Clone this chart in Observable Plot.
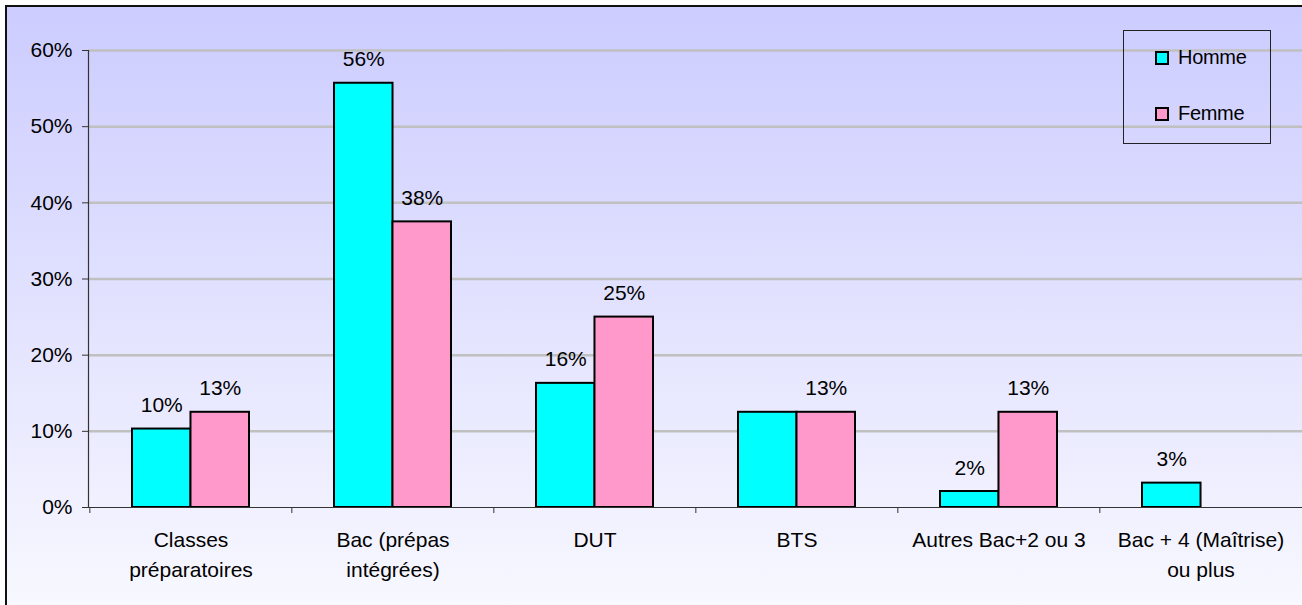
<!DOCTYPE html>
<html>
<head>
<meta charset="utf-8">
<script src="https://cdn.jsdelivr.net/npm/d3@7"></script>
<script src="https://cdn.jsdelivr.net/npm/@observablehq/plot@0.6"></script>
<style>
  html, body { margin: 0; padding: 0; background: #ffffff; overflow: hidden; }
  #wrap { position: relative; width: 1302px; height: 605px; overflow: hidden; font-family: Arial, "Liberation Sans", sans-serif; }
  #bg { position: absolute; left: 5px; top: 5px; width: 1400px; height: 620px;
        border-left: 2px solid #111; border-top: 2px solid #111;
        background: linear-gradient(to bottom, #ccccff 0px, #f8f8ff 600px); }
  #chart { position: absolute; left: 0; top: 0; }
  #legend { position: absolute; left: 1123px; top: 30px; width: 148px; height: 114px;
            border: 1px solid #222; box-sizing: border-box; }
  .item { position: absolute; left: 31px; display: flex; align-items: center; font-size: 20px; color: #000; letter-spacing: -0.3px; }
  .sw { width: 10px; height: 10px; border: 2px solid #000; margin-right: 9px; }
</style>
</head>
<body>
<div id="wrap">
  <div id="bg"></div>
  <div id="chart"></div>
  <div id="legend"></div>
</div>
<script>
const categories = ["Classes préparatoires", "Bac (prépas intégrées)", "DUT", "BTS", "Autres Bac+2 ou 3", "Bac + 4 (Maîtrise) ou plus"];
const tickLabels = ["Classes\npréparatoires", "Bac (prépas\nintégrées)", "DUT", "BTS", "Autres Bac+2 ou 3", "Bac + 4 (Maîtrise)\nou plus"];
const series = ["Homme", "Femme"];
const colors = ["#00ffff", "#ff99cc"];
const homme = [0.103, 0.557, 0.163, 0.125, 0.021, 0.032];
const femme = [0.125, 0.375, 0.25, 0.125, 0.125, 0];
const hommeLabels = ["10%", "56%", "16%", "", "2%", "3%"];
const femmeLabels = ["13%", "38%", "25%", "13%", "13%", ""];
const yTicks = [0, 0.1, 0.2, 0.3, 0.4, 0.5, 0.6];
const yTickLabels = ["0%", "10%", "20%", "30%", "40%", "50%", "60%"];

const W = 1302, H = 605, mL = 88, mR = 0, mT = 50, mB = 98;
const pad = 0.422;
const step = (W - mL - mR) / categories.length;
const bw = step * (1 - pad);
const fs = 21;

const hData = categories.map((c, i) => ({cat: c, sex: series[0], v: homme[i], label: hommeLabels[i]}));
const fData = categories.map((c, i) => ({cat: c, sex: series[1], v: femme[i], label: femmeLabels[i]}));

const font = "Arial, 'Liberation Sans', sans-serif";

const chart = Plot.plot({
  width: W, height: H,
  marginLeft: mL, marginRight: mR, marginTop: mT, marginBottom: mB,
  style: {background: "transparent", fontFamily: font, fontSize: fs + "px", color: "#000", overflow: "visible"},
  x: {domain: categories, paddingInner: pad, paddingOuter: pad / 2, axis: null},
  y: {domain: [0, 0.6], axis: null},
  marks: [
    Plot.gridY(yTicks.slice(1), {stroke: "#c0c0c0", strokeWidth: 2.5, strokeOpacity: 1}),
    Plot.barY(hData.filter(d => d.v > 0), {x: "cat", y: "v", fill: colors[0], stroke: "#000", strokeWidth: 2, insetRight: bw / 2}),
    Plot.barY(fData.filter(d => d.v > 0), {x: "cat", y: "v", fill: colors[1], stroke: "#000", strokeWidth: 2, insetLeft: bw / 2}),
    Plot.ruleY([0], {stroke: "#333", strokeWidth: 1.2}),
    Plot.frame({anchor: "left", stroke: "#333", strokeWidth: 1.2}),
    Plot.axisY({ticks: yTicks, tickFormat: d => yTickLabels[yTicks.indexOf(d)], tickSize: 6, tickPadding: 10, fontSize: fs, stroke: "#333", fill: "#000", label: null}),
    Plot.axisX({ticks: categories, tickSize: 6, tickFormat: () => "", dx: -step / 2, stroke: "#333", label: null}),
    Plot.axisX({ticks: categories, tickSize: 0, tickPadding: 19, tickFormat: d => tickLabels[categories.indexOf(d)], lineHeight: 1.4, fontSize: fs, fill: "#000", label: null}),
    Plot.text(hData.filter(d => d.label), {x: "cat", y: "v", text: "label", dx: -bw / 4, dy: -17, lineAnchor: "bottom", fontSize: fs, fill: "#000"}),
    Plot.text(fData.filter(d => d.label), {x: "cat", y: "v", text: "label", dx: bw / 4, dy: -17, lineAnchor: "bottom", fontSize: fs, fill: "#000"})
  ]
});
document.getElementById("chart").appendChild(chart);

const legend = document.getElementById("legend");
series.forEach((s, i) => {
  const item = document.createElement("div");
  item.className = "item";
  item.style.top = (i === 0 ? 15 : 71) + "px";
  const sw = document.createElement("div");
  sw.className = "sw";
  sw.style.background = colors[i];
  const t = document.createElement("span");
  t.textContent = s;
  item.appendChild(sw);
  item.appendChild(t);
  legend.appendChild(item);
});
</script>
</body>
</html>
